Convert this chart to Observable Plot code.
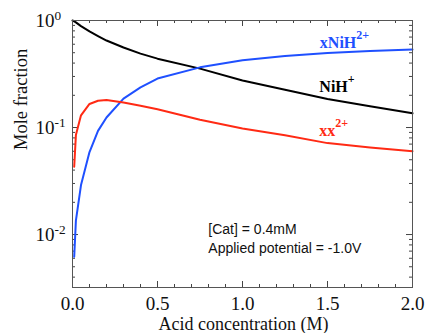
<!DOCTYPE html>
<html>
<head>
<meta charset="utf-8">
<script src="https://cdn.jsdelivr.net/npm/d3@7"></script>
<script src="https://cdn.jsdelivr.net/npm/@observablehq/plot@0.6"></script>
<style>
  html, body { margin: 0; padding: 0; background: #fff; }
  #chart svg { display: block; }
</style>
</head>
<body>
<div id="chart"></div>
<script>
// Acid concentration (M)
const acid = [0, 0.01, 0.02, 0.05, 0.1, 0.15, 0.2, 0.3, 0.4, 0.5, 0.75, 1.0, 1.25, 1.5, 1.75, 2.0];
// NiH+ (black)
const nih  = [1.0, 0.98, 0.96, 0.885, 0.79, 0.715, 0.65, 0.56, 0.49, 0.44, 0.355, 0.275, 0.225, 0.185, 0.158, 0.136];
// xNiH2+ (blue)
const xnih = [null, 0.0062, 0.0135, 0.029, 0.059, 0.093, 0.124, 0.186, 0.237, 0.287, 0.365, 0.425, 0.465, 0.497, 0.52, 0.536];
// xx2+ (red)
const xx   = [null, 0.043, 0.085, 0.13, 0.166, 0.178, 0.181, 0.171, 0.160, 0.148, 0.118, 0.098, 0.0845, 0.0715, 0.065, 0.060];

const xMajor = [0, 0.5, 1.0, 1.5, 2.0];
const xMinor = d3.range(0, 21).map(i => i / 10);
const yMajor = [1, 0.1, 0.01];
const yMinor = [0.004, 0.005, 0.006, 0.007, 0.008, 0.009,
                0.02, 0.03, 0.04, 0.05, 0.06, 0.07, 0.08, 0.09,
                0.2, 0.3, 0.4, 0.5, 0.6, 0.7, 0.8, 0.9];

const seriesLabels = ["xNiH^2+", "NiH^+", "xx^2+"];
const notes = ["[Cat] = 0.4mM", "Applied potential = -1.0V"];

const BLUE = "#1f50ff", RED = "#ff2a14", FRAME = "#555";
const SERIF = "Liberation Serif, Times New Roman, serif";
const SANS = "Liberation Sans, Arial, sans-serif";

const W = 426, H = 333, ML = 72, MR = 14, MT = 20, MB = 46;
const FW = W - ML - MR, FH = H - MT - MB;
const MINOR = 3, MAJOR = 6;

const rows = acid.map((a, i) => ({acid: a, nih: nih[i], xnih: xnih[i], xx: xx[i]}));

// inward tick helpers: rules inset so only a short stub remains at the frame edge
const tickStyle = {stroke: "#444", strokeWidth: 1};
const xTicks = (vals, len) => [
  Plot.ruleX(vals, {x: d => d, insetTop: FH - len, ...tickStyle}),
  Plot.ruleX(vals, {x: d => d, insetBottom: FH - len, ...tickStyle})
];
const yTicks = (vals, len) => [
  Plot.ruleY(vals, {y: d => d, insetRight: FW - len, ...tickStyle}),
  Plot.ruleY(vals, {y: d => d, insetLeft: FW - len, ...tickStyle})
];

const chart = Plot.plot({
  width: W,
  height: H,
  marginLeft: ML,
  marginRight: MR,
  marginTop: MT,
  marginBottom: MB,
  style: {fontFamily: SERIF, background: "#fff"},
  x: {type: "linear", domain: [0, 2], label: null, axis: null},
  y: {type: "log", domain: [0.0032, 1], label: null, axis: null},
  marks: [
    ...xTicks(xMinor, MINOR),
    ...xTicks(xMajor, MAJOR),
    ...yTicks(yMinor, MINOR),
    ...yTicks(yMajor, MAJOR),
    // x tick labels
    Plot.text(xMajor, {x: d => d, frameAnchor: "bottom", lineAnchor: "top", dy: 9, text: d => d.toFixed(1),
      fontSize: 19, fontFamily: SERIF, fill: "#111"}),
    // y tick labels with superscript exponents
    Plot.text(yMajor, {y: d => d, frameAnchor: "left", textAnchor: "start", dx: -37, text: d => "10^" + Math.round(Math.log10(d)),
      fontSize: 19, fontFamily: SERIF, fill: "#111"}),
    // axis titles
    Plot.text(["Acid concentration (M)"], {frameAnchor: "bottom", lineAnchor: "top", dy: 29.5, dx: 1,
      fontSize: 18, fontFamily: SERIF, fill: "#111"}),
    Plot.text(["Mole fraction"], {frameAnchor: "left", rotate: -90, dx: -51, dy: -4,
      fontSize: 18.5, fontFamily: SERIF, fill: "#111"}),
    // series
    Plot.line(rows, {x: "acid", y: "nih", stroke: "#000", strokeWidth: 2}),
    Plot.line(rows, {x: "acid", y: "xnih", stroke: BLUE, strokeWidth: 2}),
    Plot.line(rows, {x: "acid", y: "xx", stroke: RED, strokeWidth: 2}),
    // series labels
    Plot.text([seriesLabels[0]], {x: 1.455, y: 0.624, text: d => d, textAnchor: "start", fontSize: 16, fontWeight: "bold", fontFamily: SERIF, fill: BLUE}),
    Plot.text([seriesLabels[1]], {x: 1.452, y: 0.242, text: d => d, textAnchor: "start", fontSize: 16, fontWeight: "bold", fontFamily: SERIF, fill: "#000"}),
    Plot.text([seriesLabels[2]], {x: 1.452, y: 0.0933, text: d => d, textAnchor: "start", fontSize: 16, fontWeight: "bold", fontFamily: SERIF, fill: RED}),
    // notes
    Plot.text([notes[0]], {x: 0.799, y: 0.0112, text: d => d, textAnchor: "start", fontSize: 14, fontFamily: SANS, fill: "#111"}),
    Plot.text([notes[1]], {x: 0.799, y: 0.00743, text: d => d, textAnchor: "start", fontSize: 14, fontFamily: SANS, fill: "#111"}),
    Plot.frame({stroke: FRAME, strokeWidth: 1})
  ]
});

// turn "base^sup" into real superscript tspans
d3.select(chart).selectAll("text").each(function() {
  const t = this.textContent;
  if (!t.includes("^")) return;
  const [base, sup] = t.split("^");
  const bold = (this.getAttribute("font-weight") || this.parentNode.getAttribute("font-weight")) === "bold";
  const sel = d3.select(this);
  sel.text(base);
  sel.append("tspan")
    .attr("font-size", bold ? "0.75em" : "0.7em")
    .attr("dy", bold ? "-0.7em" : "-0.47em")
    .text(sup);
});

document.getElementById("chart").appendChild(chart);
</script>
</body>
</html>
